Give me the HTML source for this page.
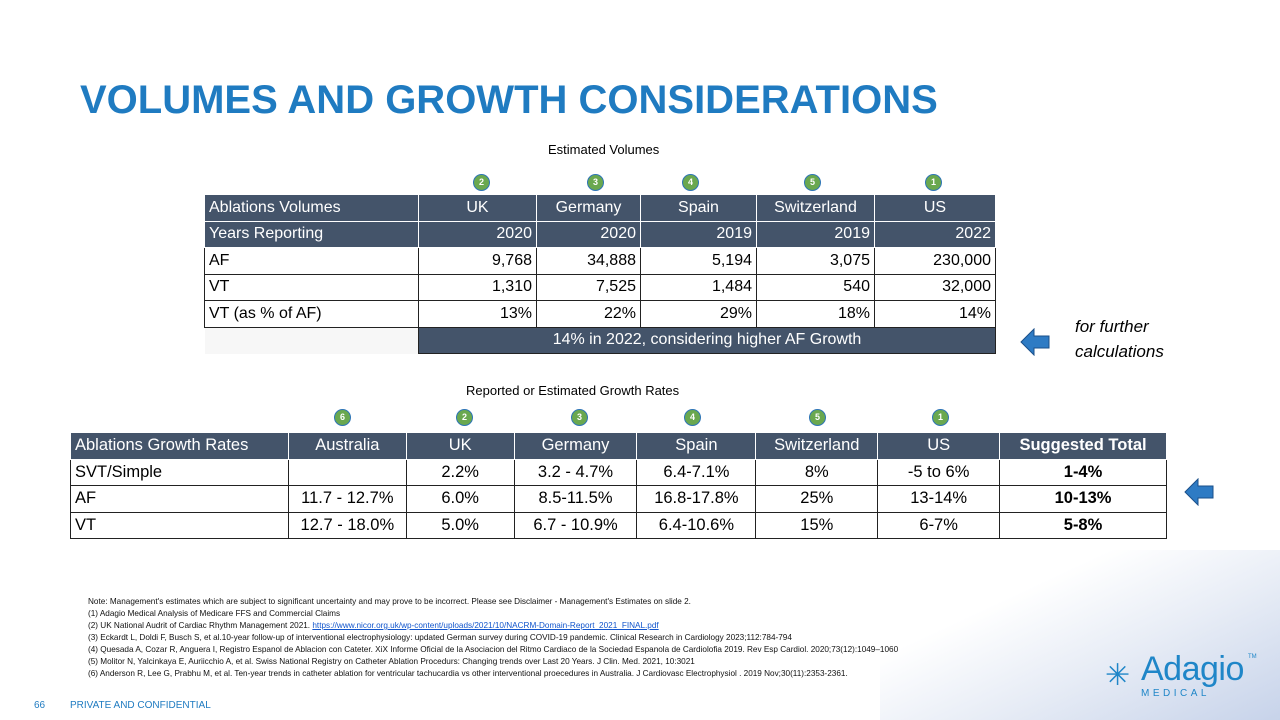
<!DOCTYPE html>
<html><head><meta charset="utf-8"><style>
body{margin:0;width:1280px;height:720px;position:relative;overflow:hidden;background:#fff;font-family:"Liberation Sans",sans-serif;}
.a{position:absolute}
table{position:absolute;border-collapse:collapse;font-size:16px;}
td{border:1.5px solid #222;padding:0 4px;white-space:nowrap;height:25.5px;}
.h td{background:#44546a;color:#fff;border-color:#fff;}
.r{text-align:right}.c{text-align:center}
.dot{position:absolute;width:15px;height:15px;border-radius:50%;background:#6aa84f;border:1.5px solid #2e75b6;color:#fff;font-size:9px;font-weight:bold;text-align:center;line-height:15px}
.fn{position:absolute;left:88px;font-size:8.2px;color:#111;white-space:nowrap}
</style></head><body>
<div class="a" style="left:880px;top:550px;width:400px;height:170px;background:linear-gradient(155deg,#fff 30%,#e8edf6 60%,#c7d3ea 100%)"></div>
<div class="a" style="left:80px;top:78px;font-size:40px;font-weight:bold;color:#1f7bc1">VOLUMES AND GROWTH CONSIDERATIONS</div>
<div class="a" style="left:548px;top:142px;font-size:13px">Estimated Volumes</div>
<div class="dot" style="left:473px;top:174px">2</div>
<div class="dot" style="left:587px;top:174px">3</div>
<div class="dot" style="left:682px;top:174px">4</div>
<div class="dot" style="left:804px;top:174px">5</div>
<div class="dot" style="left:925px;top:174px">1</div>
<table style="left:204px;top:194px;width:792px">
<colgroup><col style="width:214px"><col style="width:118px"><col style="width:104px"><col style="width:116px"><col style="width:118px"><col style="width:121px"></colgroup>
<tr class="h"><td>Ablations Volumes</td><td class="c">UK</td><td class="c">Germany</td><td class="c">Spain</td><td class="c">Switzerland</td><td class="c">US</td></tr>
<tr class="h"><td>Years Reporting</td><td class="r">2020</td><td class="r">2020</td><td class="r">2019</td><td class="r">2019</td><td class="r">2022</td></tr>
<tr><td>AF</td><td class="r">9,768</td><td class="r">34,888</td><td class="r">5,194</td><td class="r">3,075</td><td class="r">230,000</td></tr>
<tr><td>VT</td><td class="r">1,310</td><td class="r">7,525</td><td class="r">1,484</td><td class="r">540</td><td class="r">32,000</td></tr>
<tr><td>VT (as % of AF)</td><td class="r">13%</td><td class="r">22%</td><td class="r">29%</td><td class="r">18%</td><td class="r">14%</td></tr>
<tr><td style="border:none;background:#f7f7f7"></td><td colspan="5" class="c" style="background:#44546a;color:#fff">14% in 2022, considering higher AF Growth</td></tr>
</table>
<svg class="a" style="left:1020px;top:328px" width="30" height="28"><polygon points="1,14 14,1 14,8 29,8 29,20 14,20 14,27" fill="#2e7bc4" stroke="#1a4f8a"/></svg>
<div class="a" style="left:1075px;top:314px;font-size:17px;font-style:italic;line-height:25px">for further<br>calculations</div>
<div class="a" style="left:466px;top:383px;font-size:13px">Reported or Estimated Growth Rates</div>
<div class="dot" style="left:334px;top:409px">6</div>
<div class="dot" style="left:456px;top:409px">2</div>
<div class="dot" style="left:571px;top:409px">3</div>
<div class="dot" style="left:684px;top:409px">4</div>
<div class="dot" style="left:809px;top:409px">5</div>
<div class="dot" style="left:932px;top:409px">1</div>
<table style="left:70px;top:432px;width:1097px;font-size:16.5px">
<colgroup><col style="width:218px"><col style="width:118px"><col style="width:108px"><col style="width:123px"><col style="width:119px"><col style="width:122px"><col style="width:122px"><col style="width:167px"></colgroup>
<tr class="h"><td>Ablations Growth Rates</td><td class="c">Australia</td><td class="c">UK</td><td class="c">Germany</td><td class="c">Spain</td><td class="c">Switzerland</td><td class="c">US</td><td class="c" style="font-weight:bold">Suggested Total</td></tr>
<tr><td>SVT/Simple</td><td></td><td class="c">2.2%</td><td class="c">3.2 - 4.7%</td><td class="c">6.4-7.1%</td><td class="c">8%</td><td class="c">-5 to 6%</td><td class="c" style="font-weight:bold">1-4%</td></tr>
<tr><td>AF</td><td class="c">11.7 - 12.7%</td><td class="c">6.0%</td><td class="c">8.5-11.5%</td><td class="c">16.8-17.8%</td><td class="c">25%</td><td class="c">13-14%</td><td class="c" style="font-weight:bold">10-13%</td></tr>
<tr><td>VT</td><td class="c">12.7 - 18.0%</td><td class="c">5.0%</td><td class="c">6.7 - 10.9%</td><td class="c">6.4-10.6%</td><td class="c">15%</td><td class="c">6-7%</td><td class="c" style="font-weight:bold">5-8%</td></tr>
</table>
<svg class="a" style="left:1184px;top:478px" width="30" height="28"><polygon points="1,14 14,1 14,8 29,8 29,20 14,20 14,27" fill="#2e7bc4" stroke="#1a4f8a"/></svg>
<div class="fn" style="top:597px">Note: Management's estimates which are subject to significant uncertainty and may prove to be incorrect. Please see Disclaimer - Management's Estimates on slide 2.</div>
<div class="fn" style="top:609px">(1) Adagio Medical Analysis of Medicare FFS and Commercial Claims</div>
<div class="fn" style="top:621px">(2) UK National Audrit of Cardiac Rhythm Management 2021. <span style="color:#1155cc;text-decoration:underline">https://www.nicor.org.uk/wp-content/uploads/2021/10/NACRM-Domain-Report_2021_FINAL.pdf</span></div>
<div class="fn" style="top:633px">(3) Eckardt L, Doldi F, Busch S, et al.10-year follow-up of interventional electrophysiology: updated German survey during COVID-19 pandemic. Clinical Research in Cardiology 2023;112:784-794</div>
<div class="fn" style="top:645px">(4) Quesada A, Cozar R, Anguera I, Registro Espanol de Ablacion con Cateter. XiX Informe Oficial de la Asociacion del Ritmo Cardiaco de la Sociedad Espanola de Cardiolofia 2019. Rev Esp Cardiol. 2020;73(12):1049–1060</div>
<div class="fn" style="top:657px">(5) Molitor N, Yalcinkaya E, Auriicchio A, et al. Swiss National Registry on Catheter Ablation Procedurs: Changing trends over Last 20 Years. J Clin. Med. 2021, 10:3021</div>
<div class="fn" style="top:669px">(6) Anderson R, Lee G, Prabhu M, et al.  Ten-year trends in catheter ablation for ventricular tachucardia vs other interventional proecedures in Australia. J Cardiovasc Electrophysiol . 2019 Nov;30(11):2353-2361.</div>
<div class="a" style="left:34px;top:700px;font-size:10px;color:#1f7bc1">66</div>
<div class="a" style="left:70px;top:700px;font-size:10px;color:#1f7bc1">PRIVATE AND CONFIDENTIAL</div>
<div class="a" style="left:1105px;top:656px;color:#1f86c8">
<span style="position:absolute;left:0;top:2px;font-size:30px">✳</span>
<span style="position:absolute;left:36px;top:-6px;font-size:34px;letter-spacing:-0.5px">Adagio</span>
<span style="position:absolute;left:36px;top:32px;font-size:10px;letter-spacing:3.5px">MEDICAL</span>
<span style="position:absolute;left:143px;top:-2px;font-size:6px">TM</span></div>
</body></html>
